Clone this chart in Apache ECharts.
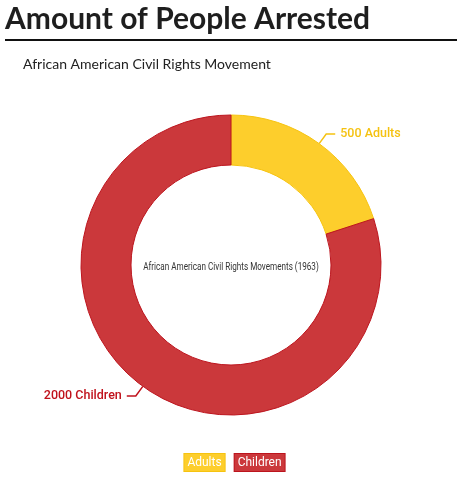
<!DOCTYPE html>
<html>
<head>
<meta charset="utf-8">
<script src="https://cdn.jsdelivr.net/npm/echarts@6/dist/echarts.min.js"></script>
<style>
  html, body { margin: 0; padding: 0; background: #fff; }
  #chart { width: 465px; height: 480px; }
</style>
</head>
<body>
<div id="chart"></div>
<script>
// data
var groups = ["Adults", "Children"];
var arrested = [500, 2000];
var sliceColors = ["#FDCE2C", "#CB383B"];
var borderColors = ["#F6C310", "#BC141D"];
var labelColors = ["#F5C211", "#C0121C"];

var narrow = "Roboto, sans-serif";

var myChart = echarts.init(document.getElementById("chart"));

myChart.setOption({
  animation: false,
  title: {
    text: "African American Civil Rights Movement",
    left: 18,
    top: 52,
    textStyle: {
      fontFamily: "Lato",
      fontWeight: "normal",
      fontSize: 14,
      color: "#222",
    },
  },
  graphic: [
    {
      type: "text",
      left: 5,
      top: 4,
      style: {
        text: "Amount of People Arrested",
        font: 'bold 30px Lato',
        fill: "#1e1e1e",
      },
    },
    {
      type: "rect",
      shape: { x: 5, y: 39, width: 452, height: 2 },
      style: { fill: "#111" },
    },
    {
      type: "text",
      x: 231,
      y: 267,
      z: 100,
      scaleX: 0.74,
      style: {
        text: "African American Civil Rights Movements (1963)",
        font: "11px " + narrow,
        fill: "#333",
        align: "center",
        verticalAlign: "middle",
      },
    },
  ],
  legend: {
    bottom: 3,
    left: "center",
    icon: "none",
    itemWidth: 0,
    itemGap: 4,
    selectedMode: false,
    data: groups.map(function (g, i) {
      return {
        name: g,
        textStyle: {
          backgroundColor: sliceColors[i],
          borderColor: borderColors[i],
          borderWidth: 1,
          color: "#fff",
          padding: [3, 3, 2, 3],
          fontFamily: narrow,
          fontSize: 12,
        },
      };
    }),
  },
  series: [
    {
      type: "pie",
      center: [231, 265],
      radius: [100, 150],
      startAngle: 90,
      clockwise: true,
      data: groups.map(function (g, i) {
        return {
          name: g,
          value: arrested[i],
          itemStyle: {
            color: sliceColors[i],
            borderColor: borderColors[i],
            borderWidth: 1,
          },
          label: { color: labelColors[i] },
          labelLine: { lineStyle: { color: labelColors[i], width: 1.5 } },
        };
      }),
      label: {
        formatter: "{c} {b}",
        fontFamily: narrow,
        fontWeight: 500,
        fontSize: 12.5,
      },
      labelLine: { length: 12, length2: 9 },
      emphasis: { disabled: true },
    },
  ],
});
</script>
</body>
</html>
